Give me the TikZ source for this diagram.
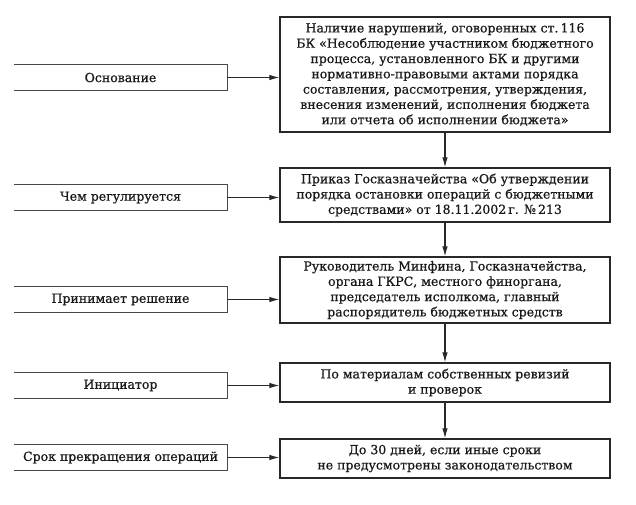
\documentclass[tikz,border=0pt]{standalone}
\usepackage{fontspec}
\setmainfont{DejaVu Serif}[FakeBold=0.6]
\usetikzlibrary{arrows.meta}
\definecolor{linecol}{RGB}{40,40,40}
\definecolor{txtcol}{RGB}{25,25,25}
\begin{document}
\begin{tikzpicture}[x=1pt,y=-1pt,
  mainbox/.style={draw=linecol, line width=1.2pt, minimum width=330pt, inner sep=0pt,
    align=center, font=\fontsize{12.5}{15.3}\selectfont, text=txtcol, anchor=center},
  sidebox/.style={minimum width=213pt, minimum height=25pt, inner sep=0pt,
    font=\fontsize{12.5}{15}\selectfont, text=txtcol, anchor=center},
  sideline/.style={draw=linecol!85, line width=0.8pt},
  conn/.style={draw=linecol, line width=1.1pt, -{Latex[length=10pt,width=5.5pt]}}
]
\useasboundingbox (0,0) rectangle (636,504);
\fill[white] (0,0) rectangle (636,504);

% main column
\node[mainbox, minimum height=115pt] (b1) at (445,74.5)
  {Наличие нарушений, оговоренных ст.\,116\\
   БК «Несоблюдение участником бюджетного\\
   процесса, установленного БК и другими\\
   нормативно-правовыми актами порядка\\
   составления, рассмотрения, утверждения,\\
   внесения изменений, исполнения бюджета\\
   или отчета об исполнении бюджета»};
\node[mainbox, minimum height=54pt] (b2) at (445,195)
  {Приказ Госказначейства «Об утверждении\\
   порядка остановки операций с бюджетными\\
   средствами» от 18.11.2002\,г. №\,213};
\node[mainbox, minimum height=66pt] (b3) at (445,290)
  {Руководитель Минфина, Госказначейства,\\
   органа ГКРС, местного финоргана,\\
   председатель исполкома, главный\\
   распорядитель бюджетных средств};
\node[mainbox, minimum height=39pt] (b4) at (445,382.5)
  {По материалам собственных ревизий\\
   и проверок};
\node[mainbox, minimum height=39pt] (b5) at (445,458.5)
  {До 30 дней, если иные сроки\\
   не предусмотрены законодательством};

% side labels
\node[sidebox] (l1) at (120.5,77.5) {Основание};
\node[sidebox] (l2) at (120.5,197.5) {Чем регулируется};
\node[sidebox] (l3) at (120.5,299.5) {Принимает решение};
\node[sidebox] (l4) at (120.5,385.5) {Инициатор};
\node[sidebox] (l5) at (120.5,457.5) {Срок прекращения операций};

\foreach \n in {l1,l2,l3,l4,l5}{
  \draw[sideline] (\n.north west) -- (\n.north east) -- (\n.south east) -- (\n.south west);
  \draw[conn] (\n.east) -- (\n.east -| b1.west);
}

% vertical connectors
\draw[conn] (b1.south) -- (b2.north);
\draw[conn] (b2.south) -- (b3.north);
\draw[conn] (b3.south) -- (b4.north);
\draw[conn] (b4.south) -- (b5.north);
\end{tikzpicture}
\end{document}
